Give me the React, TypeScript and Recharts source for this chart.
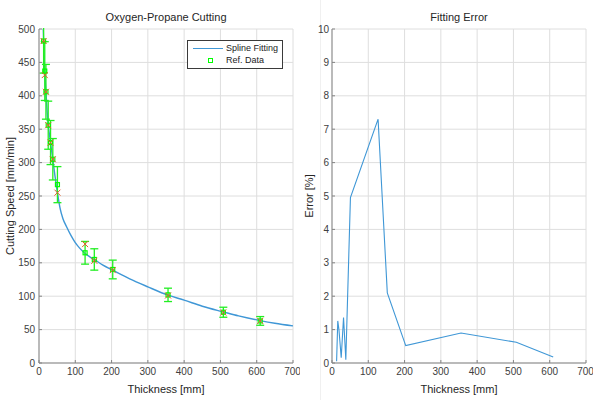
import React from 'react';
import {
  CartesianGrid,
  ComposedChart,
  ErrorBar,
  Legend,
  Line,
  LineChart,
  Scatter,
  XAxis,
  YAxis,
} from 'recharts';

// thickness of the reference plates [mm]
const thickness = [12.7, 15.9, 19.1, 25.4, 31.8, 38.1, 50.8, 127, 152.4, 203.2, 355.6, 508, 609.6];
// reference cutting speed (green squares) and its error bar half-height
const refSpeed = [482, 437, 406, 356, 330, 305, 267, 165, 155, 140, 102, 76, 63];
const refErr = [48, 44, 41, 36, 33, 31, 27, 17, 16, 14, 10, 7.5, 6.5];
// second marker set (orange crosses)
const crossSpeed = [482, 431, 406, 356, 330, 305, 255, 178, 153, 139, 101, 75.5, 63];
// fitting error [%]
const fitError = [0.05, 1.26, 1.0, 0.16, 1.36, 0.1, 4.95, 7.3, 2.1, 0.52, 0.9, 0.62, 0.18];

// spline curve
const splineX = [11.8, 12.7, 14, 15.9, 17.5, 19.1, 22, 25.4, 28.5, 31.8, 35, 38.1, 44, 50.8, 58, 66, 76, 88, 99, 112, 127, 140, 152.4, 175, 203.2, 250, 300, 355.6, 400, 450, 508, 550, 609.6, 650, 700];
const splineY = [500, 482, 455, 432, 419, 406, 380, 356, 343, 330, 317, 305, 280, 255, 232, 216, 204, 191, 181, 172, 164, 159, 155, 147, 139, 126, 114, 101.5, 94, 85, 76.5, 70.5, 63.5, 59.5, 55.5];

const xTicks = [0, 100, 200, 300, 400, 500, 600, 700];
const speedTicks = [0, 50, 100, 150, 200, 250, 300, 350, 400, 450, 500];
const errTicks = [0, 1, 2, 3, 4, 5, 6, 7, 8, 9, 10];

const spline = splineX.map((x, i) => ({ x, y: splineY[i] }));
const refData = thickness.map((x, i) => ({ x, y: refSpeed[i], err: refErr[i] }));
const crossData = thickness.map((x, i) => ({ x, y: crossSpeed[i] }));
const errData = thickness.map((x, i) => ({ x, e: fitError[i] }));

const FONT = '"Liberation Sans", Arial, Helvetica, sans-serif';
const BOX = '#858585';
const GRID = '#dedede';
const TEXT = '#404040';
const BLUE = '#3f97d6';
const tickStyle = { fill: TEXT, fontSize: 10, fontFamily: FONT };

const GreenSquare = (props: any) => {
  const { cx, cy } = props;
  if (cx == null || cy == null) return null;
  return <rect x={cx - 2} y={cy - 2} width={4} height={4} fill="none" stroke="#00ff00" strokeWidth={1.2} />;
};

const Cross = (props: any) => {
  const { cx, cy } = props;
  if (cx == null || cy == null) return null;
  const s = 3;
  return (
    <g stroke="#e0602a" strokeWidth={1}>
      <line x1={cx - s} y1={cy - s} x2={cx + s} y2={cy + s} />
      <line x1={cx - s} y1={cy + s} x2={cx + s} y2={cy - s} />
    </g>
  );
};

const LegendBox = () => (
  <div
    style={{
      width: 94,
      height: 27,
      border: '1px solid #3a3a3a',
      background: '#fff',
      fontFamily: FONT,
      fontSize: 9,
      color: '#222',
      position: 'relative',
    }}
  >
    <div style={{ position: 'absolute', left: 5, top: 7, width: 30, height: 0, borderTop: `1.5px solid ${BLUE}` }} />
    <div style={{ position: 'absolute', left: 38, top: 2, lineHeight: '11px' }}>Spline Fitting</div>
    <div style={{ position: 'absolute', left: 20, top: 17, width: 3, height: 3, border: '1px solid #00ff00' }} />
    <div style={{ position: 'absolute', left: 38, top: 14, lineHeight: '11px' }}>Ref. Data</div>
  </div>
);

const label = (text: string, style: React.CSSProperties) => (
  <div style={{ position: 'absolute', fontFamily: FONT, fontSize: 11, color: '#262626', whiteSpace: 'nowrap', lineHeight: '12px', ...style }}>
    {text}
  </div>
);

export default function App() {
  return (
    <div style={{ position: 'absolute', left: 0, top: 0, width: 593, height: 400, background: '#fff', overflow: 'hidden' }}>
      <div style={{ position: 'absolute', left: 320, top: 0, width: 1, height: 400, background: '#f0f0f0' }} />

      <div style={{ position: 'absolute', left: 0, top: 0 }}>
        <ComposedChart width={300} height={400} margin={{ top: 29, right: 7, bottom: 0, left: 0 }}>
          <CartesianGrid stroke={GRID} />
          <XAxis
            type="number"
            dataKey="x"
            domain={[0, 700]}
            ticks={xTicks}
            allowDataOverflow
            height={37}
            tickSize={-3}
            tickMargin={8}
            stroke={BOX}
            tick={tickStyle}
          />
          <XAxis xAxisId="top" orientation="top" type="number" domain={[0, 700]} ticks={xTicks} height={0} tickSize={-3} tick={false} stroke={BOX} />
          <YAxis
            type="number"
            dataKey="y"
            domain={[0, 500]}
            ticks={speedTicks}
            allowDataOverflow
            width={39}
            tickSize={-3}
            tickMargin={7}
            stroke={BOX}
            tick={tickStyle}
          />
          <YAxis yAxisId="right" orientation="right" type="number" domain={[0, 500]} ticks={speedTicks} width={0} tickSize={-3} tick={false} stroke={BOX} />
          <Line data={spline} dataKey="y" type="monotone" stroke={BLUE} strokeWidth={1.4} dot={false} isAnimationActive={false} />
          <Scatter data={refData} dataKey="y" shape={GreenSquare} isAnimationActive={false}>
            <ErrorBar dataKey="err" direction="y" width={4} stroke="#22ee22" strokeWidth={1.3} />
          </Scatter>
          <Scatter data={crossData} dataKey="y" shape={Cross} isAnimationActive={false} />
          <Legend
            layout="vertical"
            align="center"
            verticalAlign="middle"
            content={LegendBox}
            wrapperStyle={{ position: 'absolute', left: 187, top: 40, width: 96, height: 29 }}
          />
        </ComposedChart>
      </div>
      {/* hide the part of the error bars that runs above the axes box */}
      <div style={{ position: 'absolute', left: 38, top: 0, width: 257, height: 28, background: '#fff' }} />

      <div style={{ position: 'absolute', left: 296, top: 0 }}>
        <LineChart width={297} height={400} data={errData} margin={{ top: 29, right: 7, bottom: 0, left: 0 }}>
          <CartesianGrid stroke={GRID} />
          <XAxis
            type="number"
            dataKey="x"
            domain={[0, 700]}
            ticks={xTicks}
            allowDataOverflow
            height={37}
            tickSize={-3}
            tickMargin={8}
            stroke={BOX}
            tick={tickStyle}
          />
          <XAxis xAxisId="top" orientation="top" type="number" domain={[0, 700]} ticks={xTicks} height={0} tickSize={-3} tick={false} stroke={BOX} />
          <YAxis
            type="number"
            domain={[0, 10]}
            ticks={errTicks}
            allowDataOverflow
            width={36}
            tickSize={-3}
            tickMargin={6}
            stroke={BOX}
            tick={tickStyle}
          />
          <YAxis yAxisId="right" orientation="right" type="number" domain={[0, 10]} ticks={errTicks} width={0} tickSize={-3} tick={false} stroke={BOX} />
          <Line dataKey="e" type="linear" stroke={BLUE} strokeWidth={1.1} dot={false} isAnimationActive={false} />
        </LineChart>
      </div>

      {label('Oxygen-Propane Cutting', { left: 166, top: 11, transform: 'translateX(-50%)' })}
      {label('Thickness [mm]', { left: 166, top: 383, transform: 'translateX(-50%)' })}
      {label('Cutting Speed [mm/min]', { left: 10, top: 196, transform: 'translate(-50%, -50%) rotate(-90deg)' })}
      {label('Fitting Error', { left: 459, top: 11, transform: 'translateX(-50%)' })}
      {label('Thickness [mm]', { left: 459, top: 383, transform: 'translateX(-50%)' })}
      {label('Error [%]', { left: 309, top: 196, transform: 'translate(-50%, -50%) rotate(-90deg)' })}
    </div>
  );
}
